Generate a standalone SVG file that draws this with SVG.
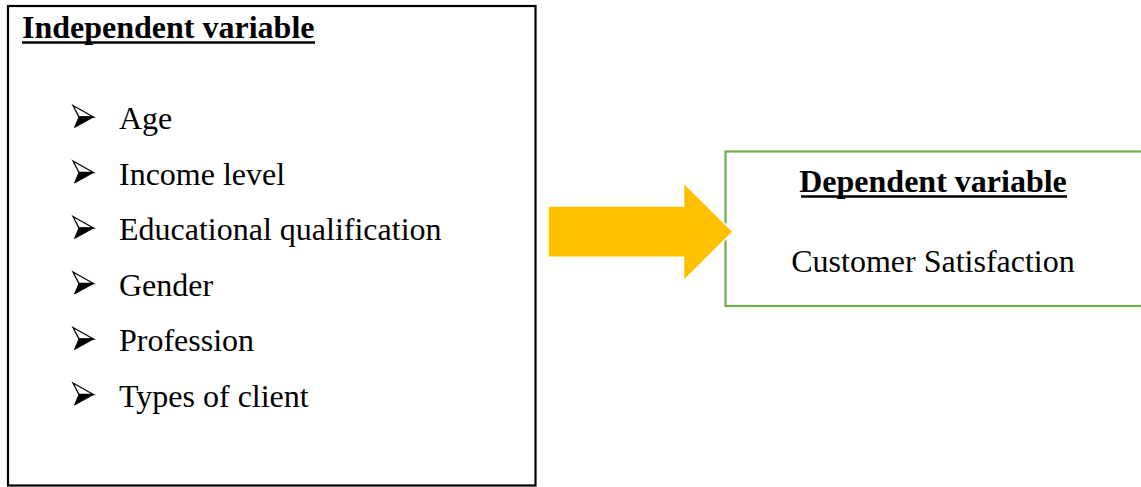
<svg xmlns="http://www.w3.org/2000/svg" width="1141" height="487" viewBox="0 0 1141 487">
  <defs>
    <style>
      .t { font-family: "Liberation Serif", "Times New Roman", serif; font-size: 32px; fill: #000; }
      .b { font-weight: bold; text-decoration: underline; }
      .ul { stroke: #000; stroke-width: 2.5; }
    </style>
    <g id="bullet">
      <path d="M-1.5,-11.5 L19,0 L4.5,0 Z" fill="#fff" stroke="#000" stroke-width="1.3" stroke-linejoin="miter"/>
      <path d="M4.5,0 L19,0 L0,10.5 Z" fill="#000" stroke="#000" stroke-width="1"/>
    </g>
  </defs>
  <rect width="1141" height="487" fill="#fff"/>
  <g id="independent">
    <rect x="8" y="6" width="527.5" height="479.5" fill="#fff" stroke="#000" stroke-width="2.2"/>
    <text class="t" x="22" y="38" font-weight="bold">Independent variable</text>
    <line class="ul" x1="22" y1="42.5" x2="315" y2="42.5"/>
    <use href="#bullet" x="74.5" y="117"/>
    <text class="t" x="119" y="129">Age</text>
    <use href="#bullet" x="74.5" y="172.5"/>
    <text class="t" x="119" y="184.5">Income level</text>
    <use href="#bullet" x="74.5" y="228"/>
    <text class="t" x="119" y="240">Educational qualification</text>
    <use href="#bullet" x="74.5" y="283.5"/>
    <text class="t" x="119" y="295.5">Gender</text>
    <use href="#bullet" x="74.5" y="339"/>
    <text class="t" x="119" y="351">Profession</text>
    <use href="#bullet" x="74.5" y="394.5"/>
    <text class="t" x="119" y="406.5">Types of client</text>
  </g>
  <g id="dependent">
    <rect x="725.5" y="151.5" width="614" height="154.5" fill="#fff" stroke="#70AD47" stroke-width="2.2"/>
    <text class="t" x="933" y="192" text-anchor="middle" font-weight="bold">Dependent variable</text>
    <line class="ul" x1="801" y1="196.5" x2="1067" y2="196.5"/>
    <text class="t" x="933" y="272" text-anchor="middle">Customer Satisfaction</text>
  </g>
  <g id="connectors">
    <path d="M548,206 L683.5,206 L683.5,182.5 L733,231.7 L683.5,281 L683.5,257.3 L548,257.3 Z" fill="#FFC000" stroke="#fff" stroke-width="1.5" stroke-linejoin="miter"/>
  </g>
</svg>
